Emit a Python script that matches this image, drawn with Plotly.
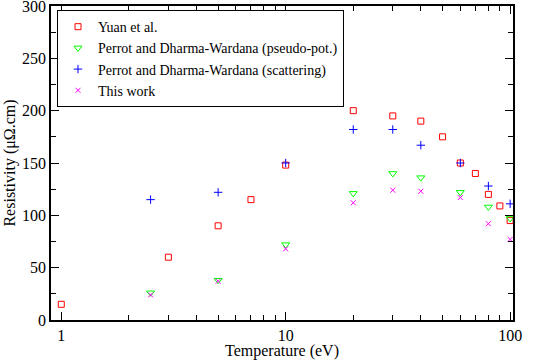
import plotly.graph_objects as go

# Yuan et al.
yuan_t = [1, 3, 5, 7, 10, 20, 30, 40, 50, 60, 70, 80, 90, 100]
yuan_r = [15, 60, 90, 115, 148, 200, 195, 190, 175, 150, 140, 120, 109, 95]

# Perrot and Dharma-Wardana
pdw_t = [2.5, 5, 10, 20, 30, 40, 60, 80, 100]
pseudo_r = [26, 38, 72, 121, 140, 136, 122, 108, 97]
scatt_r = [115, 122, 150, 182, 182, 167, 150, 128, 111]

# This work
this_t = [2.5, 5, 10, 20, 30, 40, 60, 80, 100]
this_r = [24, 37, 68, 112, 124, 123, 117, 92, 77]

xmajor = [1, 10, 100]
xminor = [2, 3, 4, 5, 6, 7, 8, 9, 20, 30, 40, 50, 60, 70, 80, 90]

txt = dict(family="Liberation Serif", size=16, color="black")

fig = go.Figure()
fig.add_trace(go.Scatter(x=yuan_t, y=yuan_r, mode="markers", name="Yuan et al.",
                         marker=dict(symbol="square-open", size=6, color="#ff0000",
                                     line=dict(width=1))))
fig.add_trace(go.Scatter(x=pdw_t, y=pseudo_r, mode="markers",
                         name="Perrot and Dharma-Wardana (pseudo-pot.)",
                         marker=dict(symbol="triangle-down-open", size=7, color="#00ff00",
                                     line=dict(width=1))))
fig.add_trace(go.Scatter(x=pdw_t, y=scatt_r, mode="markers",
                         name="Perrot and Dharma-Wardana (scattering)",
                         marker=dict(symbol="cross-thin-open", size=6, color="#0000ff",
                                     line=dict(width=1))))
fig.add_trace(go.Scatter(x=this_t, y=this_r, mode="markers", name="This work",
                         marker=dict(symbol="x-thin-open", size=5, color="#ff00ff",
                                     line=dict(width=1))))

fig.update_xaxes(type="log", range=[-0.0458, 2.0128], automargin=False,
                 tickmode="array", tickvals=xmajor, ticktext=["1", "10", "100"],
                 ticks="inside", ticklen=8, tickcolor="black",
                 minor=dict(tickmode="array", tickvals=xminor, ticks="inside",
                            ticklen=5, tickcolor="black"),
                 showline=True, linecolor="black", linewidth=1.5, mirror="ticks",
                 showgrid=False, zeroline=False, ticklabeloverflow="allow",
                 tickfont=txt,
                 title=dict(text="Temperature (eV)", font=txt, standoff=0))
fig.update_yaxes(range=[0, 300], dtick=50, automargin=False,
                 ticks="inside", ticklen=8, tickcolor="black",
                 minor=dict(dtick=25, ticks="inside", ticklen=5, tickcolor="black"),
                 showline=True, linecolor="black", linewidth=1.5, mirror="ticks",
                 showgrid=False, zeroline=False, ticklabeloverflow="allow",
                 tickfont=txt,
                 title=dict(text="Resistivity (μΩ.cm)", font=txt, standoff=2))

fig.update_layout(
    width=545, height=360,
    margin=dict(l=51, r=32, t=6, b=40),
    plot_bgcolor="white", paper_bgcolor="white",
    font=txt,
    legend=dict(x=0.013, y=0.987, xanchor="left", yanchor="top",
                bordercolor="black", borderwidth=1, bgcolor="white",
                font=dict(family="Liberation Serif", size=14, color="black"),
                itemwidth=30, tracegroupgap=0),
)

# page body has a default 8px margin, drop it so the figure sits at 0,0
fig.write_html("out.html", config={"displayModeBar": False},
               post_script="document.body.style.margin='0px';")
